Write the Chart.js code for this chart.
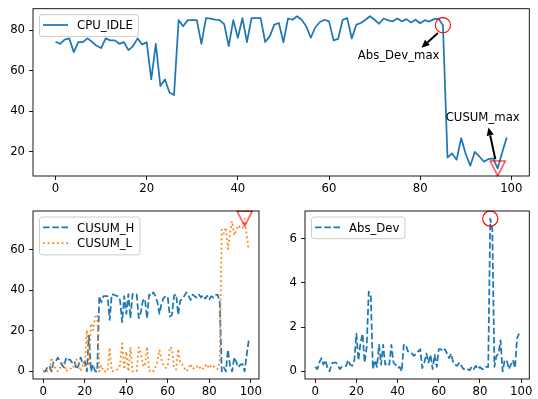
<!DOCTYPE html>
<html>
<head>
<meta charset="utf-8">
<script src="https://cdn.jsdelivr.net/npm/chart.js@4.4.1/dist/chart.umd.min.js"></script>
<style>
  html, body { margin: 0; padding: 0; background: #fff; }
  #wrap { position: relative; width: 538px; height: 399px; }
  #wrap canvas { position: absolute; left: 0; top: 0; }
</style>
</head>
<body>
<div id="wrap">
  <canvas id="cpuChart" width="538" height="399"></canvas>
  <canvas id="cusumChart" width="538" height="399"></canvas>
  <canvas id="devChart" width="538" height="399"></canvas>
</div>
<script>
// values, index 0..99
const cpuIdle = [74.3, 73.3, 75.4, 76, 69.2, 74.1, 74.1, 76, 74.3, 72.3,
  71.2, 76, 75, 75, 73.3, 74.1, 70.2, 72.2, 76, 73,
  74, 55.7, 73.3, 52.4, 55.7, 49.2, 48, 85, 82, 85,
  85, 85, 73.3, 86, 85.7, 85.3, 85, 83, 72.2, 85,
  76.3, 86, 74.2, 86, 86, 86, 74.2, 77, 82.8, 83.6,
  74, 85.8, 85.2, 86.9, 85.2, 82, 76.3, 81.5, 84.1, 85.2,
  84.4, 75, 75.7, 85.2, 86, 75.9, 82.8, 83.6, 85.2, 86.9,
  85.2, 83.2, 85.8, 84.9, 84.4, 85.8, 84.4, 85.5, 83.8, 85.2,
  83.5, 85, 84.3, 85.5, 85.8, 82.5, 17.1, 19.1, 16, 26.7,
  18.8, 13, 19.9, 17.6, 15, 16.3, 16.6, 11.7, 19.6, 27];

const cusumH = [0, 0, 2.1, 2.7, 0, 4.9, 4.9, 6.8, 5.1, 3.1,
  2.0, 6.8, 5.8, 5.8, 4.1, 4.9, 1.0, 3.0, 6.8, 3.8,
  4.8, 0, 17.6, 0, 3.3, 0, 0, 37, 34, 37,
  37, 37, 25.3, 38, 37.7, 37.3, 37, 35, 24.2, 37,
  28.3, 38, 26.2, 38, 38, 38, 26.2, 29, 34.8, 35.6,
  26, 37.8, 37.2, 38.9, 37.2, 34, 28.3, 33.5, 36.1, 37.2,
  36.4, 27, 27.7, 37.2, 38, 27.9, 34.8, 35.6, 37.2, 38.9,
  37.2, 35.2, 37.8, 36.9, 36.4, 37.8, 36.4, 37.5, 35.8, 37.2,
  35.5, 37, 36.3, 37.5, 37.8, 34.5, 0, 2, 0, 10.7,
  2.8, 0, 6.9, 4.6, 2, 3.3, 3.6, 0, 7.9, 15.3];

const cusumL = [0, 1, 0, 0, 6.8, 1.9, 1.9, 0, 1.7, 3.7,
  4.8, 0, 1, 1, 2.7, 1.9, 5.8, 3.8, 0, 3,
  2, 20.3, 2.7, 23.6, 20.3, 26.8, 28, 0, 3, 0,
  0, 0, 11.7, 0, 0.3, 0.7, 1, 3, 13.8, 1,
  9.7, 0, 11.8, 0, 0, 0, 11.8, 9, 3.2, 2.4,
  12, 0.2, 0.8, 0, 1.7, 4.9, 10.6, 5.4, 2.8, 1.7,
  2.5, 11.9, 11.2, 1.7, 0.9, 11, 4.1, 3.3, 1.7, 0,
  1.7, 3.7, 1.1, 2, 2.5, 1.1, 2.5, 1.4, 3.1, 1.7,
  3.4, 1.9, 2.6, 1.4, 1.1, 4.4, 69.8, 67.8, 70.9, 60.2,
  68.1, 73.9, 67, 69.3, 71.9, 70.6, 70.3, 75.2, 67.3, 59.9];

const absDev = [0.2, 0.1, 0.4, 0.6, 0.3, 0.5, 0.15, 0, 0.35, 0.4,
  0.4, 0.3, 0.1, 0.2, 0.2, 0.25, 0.5, 0.3, 0.25, 0.5,
  1.7, 0.5, 1.3, 1.7, 0.4, 1.1, 3.6, 3.4, 0.1, 0.5,
  0.2, 1.2, 0.3, 1.2, 0.3, 0.4, 0.3, 1.2, 0.4, 0.3,
  0.15, 0.2, 0, 1.2, 1.2, 0.9, 0.9, 0.8, 0.7, 0.8,
  0.9, 1.0, 0.15, 0.4, 0.8, 0.4, 0.75, 0.1, 0.75, 0.2,
  1.0, 1.0, 0.9, 1.0, 0.8, 0.6, 0.8, 0.4, 0.3, 0.25,
  0.4, 0.25, 0.1, 0.15, 0.1, 0.05, 0.2, 0.1, 0.25, 0.1,
  0.2, 0.1, 0.1, 0.2, 0.2, 6.9, 6.4, 0.2, 0.7, 0.8,
  1.4, 0, 0.5, 0.5, 0.1, 0.3, 0.5, 0.15, 1.5, 1.7];

const absDevMaxAt = 85;   // red circle
const cusumMaxAt = 97;    // red triangle

const xTicks = [0, 20, 40, 60, 80, 100];
const yTicksCpu = [20, 40, 60, 80];
const yTicksCusum = [0, 20, 40, 60];
const yTicksDev = [0, 2, 4, 6];

const FONT = '"DejaVu Sans", "Liberation Sans", sans-serif';
const FS = 11.7;
Chart.defaults.font.family = FONT;
Chart.defaults.font.size = FS;
Chart.defaults.color = '#000';

const BLUE = '#1f77b4', ORANGE = '#ff7f0e', RED = '#ff0000';

const pts = arr => arr.map((v, i) => ({ x: i, y: v }));

function triangleDown() {
  const c = document.createElement('canvas');
  c.width = 18; c.height = 18;
  const g = c.getContext('2d');
  g.strokeStyle = RED; g.lineWidth = 1.1;
  g.beginPath(); g.moveTo(1.5, 1.5); g.lineTo(16.5, 1.5); g.lineTo(9, 16.5); g.closePath();
  g.stroke();
  return c;
}
const triImg = triangleDown();

function marker(x, y, kind) {
  return {
    data: [{ x, y }], showLine: false, order: 0, clip: false,
    pointStyle: kind === 'circle' ? 'circle' : triImg,
    pointRadius: 7.6, pointHoverRadius: 7.6,
    pointBorderColor: RED, pointBackgroundColor: 'rgba(0,0,0,0)', pointBorderWidth: 1.1
  };
}

function line(label, arr, color, dash, order) {
  return {
    label, data: pts(arr), borderColor: color, borderWidth: 1.75, borderDash: dash,
    borderCapStyle: 'butt', borderJoinStyle: 'round',
    pointRadius: 0, tension: 0, fill: false, order
  };
}

// axes with fixed sizes so the plot frames sit where the reference has them
function scales(yTicks, yMin, yMax, xH) {
  const common = {
    type: 'linear',
    grid: { drawOnChartArea: false, drawTicks: true, tickLength: 4, color: '#000', lineWidth: 0.9 },
    border: { display: false }
  };
  return {
    x: Object.assign({}, common, {
      min: -4.95, max: 103.95,
      afterBuildTicks: s => { s.ticks = xTicks.map(v => ({ value: v })); },
      afterFit: s => { s.height = xH; s.paddingLeft = 0; s.paddingRight = 0; },
      ticks: { color: '#000', padding: 2, maxRotation: 0, autoSkip: false }
    }),
    y: Object.assign({}, common, {
      min: yMin, max: yMax,
      afterBuildTicks: s => { s.ticks = yTicks.map(v => ({ value: v })); },
      afterFit: s => { s.width = 30; s.paddingTop = 0; s.paddingBottom = 0; },
      ticks: { color: '#000', padding: 4, autoSkip: false }
    })
  };
}

const frame = {
  id: 'frame',
  afterDatasetsDraw(chart) {
    const { ctx, chartArea: a } = chart;
    ctx.save();
    ctx.strokeStyle = '#000'; ctx.lineWidth = 0.9;
    ctx.strokeRect(a.left, a.top, a.right - a.left, a.bottom - a.top);
    ctx.restore();
  }
};

const arrows = {
  id: 'arrows',
  afterDatasetsDraw(chart, args, opts) {
    if (!opts.items) return;
    const { ctx, scales: { x, y } } = chart;
    ctx.save();
    opts.items.forEach(it => {
      const x0 = x.getPixelForValue(it.from[0]), y0 = y.getPixelForValue(it.from[1]);
      const x1 = x.getPixelForValue(it.to[0]), y1 = y.getPixelForValue(it.to[1]);
      const ang = Math.atan2(y1 - y0, x1 - x0);
      const hl = 8, hw = 3.6;
      const bx = x1 - Math.cos(ang) * hl, by = y1 - Math.sin(ang) * hl;
      ctx.strokeStyle = '#000'; ctx.fillStyle = '#000'; ctx.lineWidth = 2;
      ctx.beginPath(); ctx.moveTo(x0, y0); ctx.lineTo(bx, by); ctx.stroke();
      ctx.beginPath();
      ctx.moveTo(x1, y1);
      ctx.lineTo(bx + Math.sin(ang) * hw, by - Math.cos(ang) * hw);
      ctx.lineTo(bx - Math.sin(ang) * hw, by + Math.cos(ang) * hw);
      ctx.closePath(); ctx.fill();
      ctx.font = FS + 'px ' + FONT;
      ctx.textAlign = 'left'; ctx.textBaseline = 'alphabetic';
      ctx.fillText(it.text, x.getPixelForValue(it.at[0]), y.getPixelForValue(it.at[1]));
    });
    ctx.restore();
  }
};

// matplotlib-like legend box in the upper left of the axes
const mplLegend = {
  id: 'mplLegend',
  afterDraw(chart) {
    const items = chart.data.datasets.filter(d => d.label);
    const { ctx, chartArea: a } = chart;
    ctx.save();
    ctx.font = FS + 'px ' + FONT;
    const tw = Math.max(...items.map(d => ctx.measureText(d.label).width));
    const x0 = a.left + 6, y0 = a.top + 5.5;
    const w = 38 + tw + 5, h = 5.5 + items.length * 16.2;
    ctx.beginPath();
    ctx.roundRect(x0 + 0.5, y0 + 0.5, w, h, 2.5);
    ctx.fillStyle = 'rgba(255,255,255,0.8)'; ctx.fill();
    ctx.strokeStyle = '#cccccc'; ctx.lineWidth = 1; ctx.stroke();
    items.forEach((d, k) => {
      const ly = y0 + 10.8 + k * 15.8;
      ctx.strokeStyle = d.borderColor; ctx.lineWidth = 1.75; ctx.lineCap = 'butt';
      ctx.setLineDash(d.borderDash || []);
      ctx.beginPath(); ctx.moveTo(x0 + 4, ly); ctx.lineTo(x0 + 29, ly); ctx.stroke();
      ctx.setLineDash([]);
      ctx.fillStyle = '#000'; ctx.textBaseline = 'alphabetic';
      ctx.fillText(d.label, x0 + 38, ly + 4.2);
    });
    ctx.restore();
  }
};

function make(id, datasets, sc, padding, extra) {
  return new Chart(document.getElementById(id), {
    type: 'line',
    data: { datasets },
    options: Object.assign({
      responsive: false, animation: false, devicePixelRatio: 1,
      layout: { padding },
      plugins: { legend: { display: false }, tooltip: { enabled: false } },
      events: [],
      scales: sc
    }, extra || {}),
    plugins: [frame, arrows, mplLegend]
  });
}

make('cpuChart', [
  line('CPU_IDLE', cpuIdle, BLUE, [], 1),
  marker(absDevMaxAt, cpuIdle[absDevMaxAt], 'circle'),
  marker(cusumMaxAt, cpuIdle[cusumMaxAt], 'tri')
], scales(yTicksCpu, 7.94, 90.66, 22), { left: 3, top: 8, right: 7, bottom: 201 });

// annotation anchors (data units)
Chart.getChart('cpuChart').options.plugins.arrows = {
  items: [
    { text: 'Abs_Dev_max', at: [66.3, 65.6], from: [83.9, 78.7], to: [80.3, 71.3] },
    { text: 'CUSUM_max', at: [85.6, 35.2], from: [96.5, 16.2], to: [95.0, 31.9] }
  ]
};
Chart.getChart('cpuChart').update('none');

make('cusumChart', [
  line('CUSUM_H', cusumH, BLUE, [6.5, 2.8], 2),
  line('CUSUM_L', cusumL, ORANGE, [1.75, 2.9], 1),
  marker(cusumMaxAt, cusumL[cusumMaxAt], 'tri')
], scales(yTicksCusum, -3.76, 78.96, 20), { left: 3, top: 211, right: 279, bottom: 0 });

make('devChart', [
  line('Abs_Dev', absDev, BLUE, [6.5, 2.8], 1),
  marker(absDevMaxAt, absDev[absDevMaxAt], 'circle')
], scales(yTicksDev, -0.345, 7.245, 20), { left: 275, top: 211, right: 8, bottom: 0 });
</script>
</body>
</html>
